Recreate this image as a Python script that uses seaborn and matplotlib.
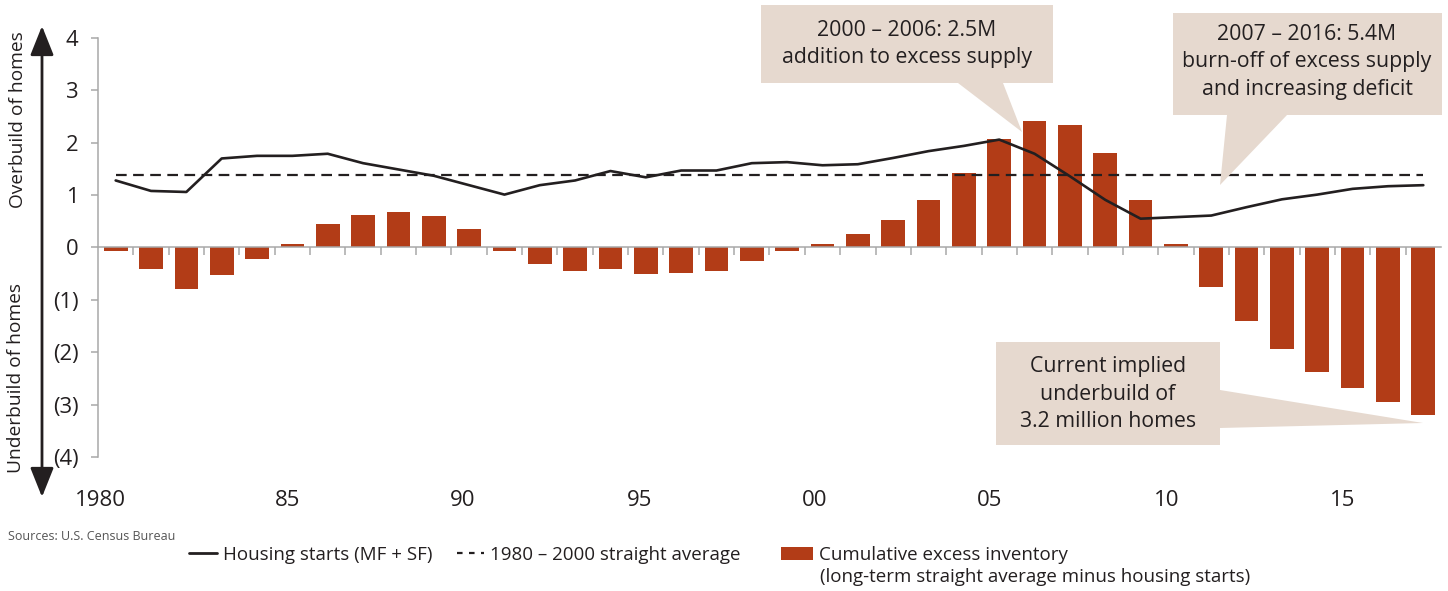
import numpy as np
import pandas as pd
import matplotlib
matplotlib.use("Agg")
import matplotlib.pyplot as plt
import seaborn as sns
from matplotlib.lines import Line2D
from matplotlib.patches import Patch, Polygon

# ---------------------------- DATA -----------------------------------

YEARS = list(range(1980, 2018))

# cumulative excess inventory (millions of homes), bars
EXCESS_INVENTORY = [
    -0.06, -0.42, -0.80, -0.52, -0.22, 0.07, 0.44, 0.62, 0.67, 0.61,
    0.36, -0.06, -0.31, -0.45, -0.42, -0.51, -0.48, -0.45, -0.26, -0.06,
    0.07, 0.25, 0.52, 0.91, 1.42, 2.07, 2.42, 2.33, 1.80, 0.91,
    0.06, -0.75, -1.41, -1.93, -2.37, -2.68, -2.95, -3.19,
]

# housing starts MF + SF (millions), line
HOUSING_STARTS = [
    1.28, 1.08, 1.06, 1.70, 1.75, 1.75, 1.79, 1.61, 1.49, 1.37,
    1.19, 1.01, 1.19, 1.28, 1.46, 1.34, 1.47, 1.47, 1.61, 1.63,
    1.57, 1.59, 1.71, 1.84, 1.94, 2.06, 1.79, 1.36, 0.91, 0.55,
    0.58, 0.61, 0.77, 0.92, 1.01, 1.12, 1.17, 1.19,
]

AVG_1980_2000 = 1.39

XTICK_LABELS = ["1980", "85", "90", "95", "00", "05", "10", "15"]
YTICKS = [-4, -3, -2, -1, 0, 1, 2, 3, 4]
YTICK_LABELS = ["(4)", "(3)", "(2)", "(1)", "0", "1", "2", "3", "4"]

CALLOUT_TEXTS = [
    "2000 \u2013 2006: 2.5M\naddition to excess supply",
    "2007 \u2013 2016: 5.4M\nburn-off of excess supply\nand increasing deficit",
    "Current implied\nunderbuild of\n3.2 million homes",
]

# ---------------------------- STYLE ----------------------------------

W, H = 1448, 591
BAR = "#B23C17"
INK = "#231F20"
AXIS_GREY = "#A8A8A8"
BOX = "#E6D9CF"

# x label positions (category units) as they sit in the original
XTICK_POS = [-0.42, 4.85, 9.83, 14.81, 19.79, 24.74, 29.75, 34.73]


def px(x, y):
    """pixel (from top-left) -> figure fraction"""
    return x / W, 1 - y / H


def callout(fig, pts, text_xy, text):
    poly = Polygon([px(*p) for p in pts], closed=True, transform=fig.transFigure,
                   facecolor=BOX, edgecolor="none", zorder=3)
    fig.add_artist(poly)
    fig.text(*px(*text_xy), text, ha="center", va="center", multialignment="center",
             fontsize=15.3, color=INK, linespacing=1.38, zorder=4)


def main():
    sns.set_theme(style="white")
    plt.rcParams["font.family"] = ["Open Sans", "DejaVu Sans"]

    df = pd.DataFrame({
        "year": [str(y) for y in YEARS],
        "excess": EXCESS_INVENTORY,
        "starts": HOUSING_STARTS,
    })
    pos = np.arange(len(df))

    fig = plt.figure(figsize=(W / 100, H / 100), dpi=100)
    ax = fig.add_axes([98 / W, 1 - 457 / H, (1441 - 98) / W, (457 - 38) / H])

    sns.barplot(data=df, x="year", y="excess", color=BAR, width=0.67,
                saturation=1, edgecolor="none", ax=ax, zorder=1)
    sns.lineplot(x=pos, y=df["starts"].values, color=INK, lw=1.9, ax=ax, zorder=4)
    sns.lineplot(x=pos, y=np.full(len(df), AVG_1980_2000), color=INK, lw=1.6,
                 ax=ax, zorder=3)
    ax.lines[-1].set_dashes((4.8, 2.9))

    ax.set_xlim(-0.5, len(df) - 0.5)
    ax.set_ylim(-4, 4)
    ax.set_xlabel("")
    ax.set_ylabel("")

    # zero line with ticks between the categories
    for s in ["top", "right"]:
        ax.spines[s].set_visible(False)
    ax.spines["bottom"].set_position(("data", 0))
    ax.spines["bottom"].set_color(AXIS_GREY)
    ax.spines["bottom"].set_linewidth(1.1)
    ax.spines["left"].set_color(AXIS_GREY)
    ax.spines["left"].set_linewidth(1.1)
    ax.set_xticks([])
    ax.set_xticks(pos[:-1] + 0.5, minor=True)
    ax.tick_params(axis="x", which="minor", length=6, width=1.1, color=AXIS_GREY,
                   direction="out", bottom=True)

    ax.set_yticks(YTICKS, YTICK_LABELS)
    ax.tick_params(axis="y", length=5, width=1.1, color=AXIS_GREY, left=True,
                   labelsize=15.8, labelcolor=INK, pad=9)

    sec = ax.secondary_xaxis("bottom")
    sec.set_xticks(XTICK_POS, XTICK_LABELS)
    sec.tick_params(length=0, labelsize=16, labelcolor=INK, pad=24)
    sec.spines["bottom"].set_visible(False)

    # y-axis direction labels and double arrow
    fig.text(*px(18, 120), "Overbuild of homes", rotation=90, ha="center",
             va="center", fontsize=13.8, color=INK)
    fig.text(*px(16, 378), "Underbuild of homes", rotation=90, ha="center",
             va="center", fontsize=13.8, color=INK)
    ax.annotate("", xy=px(42, 26), xytext=px(42, 497), xycoords="figure fraction",
                textcoords="figure fraction",
                arrowprops=dict(arrowstyle="<|-|>,head_length=1.0,head_width=0.4",
                                mutation_scale=18, lw=2, color=INK,
                                shrinkA=0, shrinkB=0))

    # callouts
    callout(fig, [(761, 5), (1053, 5), (1053, 83), (1003, 83), (1022, 132),
                  (958, 83), (761, 83)], (907, 44), CALLOUT_TEXTS[0])
    callout(fig, [(1173, 13), (1442, 13), (1442, 115), (1287, 115), (1220, 185),
                  (1227, 115), (1173, 115)], (1307, 62), CALLOUT_TEXTS[1])
    callout(fig, [(996, 342), (1220, 342), (1220, 390), (1423, 423), (1220, 428),
                  (1220, 445), (996, 445)], (1108, 394), CALLOUT_TEXTS[2])

    # source
    fig.text(*px(8, 536), "Sources: U.S. Census Bureau", ha="left", va="center",
             fontsize=9, color="#555555")

    # legend entries
    leg_kw = dict(frameon=False, borderpad=0, borderaxespad=0, fontsize=13.5,
                  labelcolor=INK, loc="center left", handletextpad=0.3)
    h1 = Line2D([], [], color=INK, lw=2)
    fig.legend(handles=[h1], labels=["Housing starts (MF + SF)"],
               bbox_to_anchor=px(189, 555), handlelength=1.5, **leg_kw)
    h2 = Line2D([], [], color=INK, lw=1.6, dashes=(2.5, 2.9))
    fig.legend(handles=[h2], labels=["1980 \u2013 2000 straight average"],
               bbox_to_anchor=px(457, 555), handlelength=1.45, **leg_kw)
    h3 = Patch(facecolor=BAR, edgecolor="none")
    fig.legend(handles=[h3], labels=["Cumulative excess inventory"],
               bbox_to_anchor=px(781, 555), handlelength=1.7, **leg_kw)
    fig.text(*px(820, 577), "(long-term straight average minus housing starts)",
             ha="left", va="center", fontsize=13.5, color=INK)

    fig.savefig("out.png", dpi=100)
    plt.close(fig)


if __name__ == "__main__":
    main()
